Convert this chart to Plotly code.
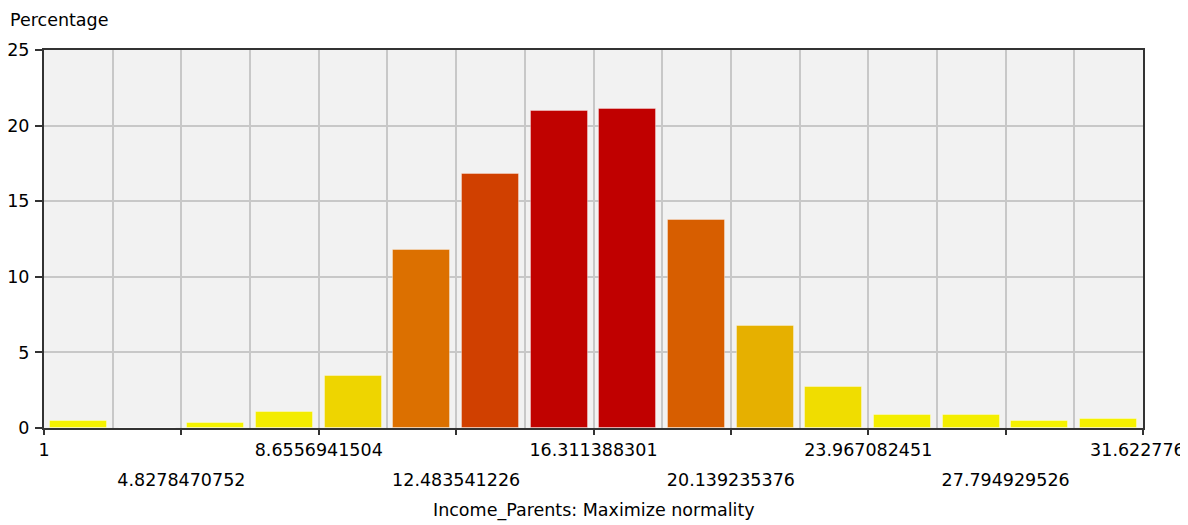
import plotly.graph_objects as go

# ---- data ----
percent = [0.48, 0.0, 0.34, 1.07, 3.43, 11.8, 16.83, 20.97, 21.1, 13.74,
           6.72, 2.68, 0.83, 0.83, 0.48, 0.58]
x_min = 1.0
x_max = 31.6227766
tick_labels = ["1", "4.8278470752", "8.6556941504", "12.483541226",
               "16.311388301", "20.139235376", "23.967082451",
               "27.794929526", "31.6227766"]
y_title = "Percentage"
x_title = "Income_Parents: Maximize normality"

n_bins = len(percent)
bin_w = (x_max - x_min) / n_bins
centers = [x_min + (i + 0.5) * bin_w for i in range(n_bins)]
tick_vals = [float(t) for t in tick_labels]

FONT = "DejaVu Sans"
FS = 17.5
GRID = "#c8c8c8"
FRAME = "#333333"
SCALE = [[0, "#f6f600"], [0.16, "#eed600"], [0.32, "#e6b000"],
         [0.56, "#dc7000"], [0.8, "#d04000"], [1, "#c00000"]]

fig = go.Figure()
fig.add_bar(
    x=centers, y=percent, width=bin_w * 0.83,
    marker=dict(color=percent, colorscale=SCALE,
                cmin=0, cmax=max(percent),
                line=dict(color="rgba(255,255,255,0.35)", width=1)),
    showlegend=False, hoverinfo="x+y",
)
# invisible helper trace so the second (label-row) x axis is drawn
fig.add_scatter(x=[x_min, x_max], y=[0, 0], xaxis="x2", mode="markers",
                marker=dict(opacity=0), showlegend=False, hoverinfo="skip")

fig.update_layout(
    width=1180, height=517,
    margin=dict(l=36, r=45, t=42, b=97, autoexpand=False),
    paper_bgcolor="white", plot_bgcolor="#f2f2f2",
    font=dict(family=FONT, size=FS, color="black"),
    bargap=0,
    xaxis=dict(
        range=[x_min, x_max], automargin=False,
        tickmode="array", tickvals=tick_vals,
        ticktext=[t if i % 2 == 0 else "" for i, t in enumerate(tick_labels)],
        ticks="outside", ticklen=5, tickwidth=1.5, tickcolor=FRAME,
        showgrid=True, gridcolor=GRID, gridwidth=1.5,
        minor=dict(tick0=x_min, dtick=bin_w, showgrid=True,
                   gridcolor=GRID, gridwidth=1.5, ticks=""),
        showline=True, mirror=True, linecolor=FRAME, linewidth=2,
        zeroline=False, ticklabelstandoff=0, ticklabeloverflow="allow",
    ),
    xaxis2=dict(
        overlaying="x", side="bottom", anchor="y", matches="x",
        range=[x_min, x_max], automargin=False,
        tickmode="array",
        tickvals=[v for i, v in enumerate(tick_vals) if i % 2 == 1],
        ticktext=[t for i, t in enumerate(tick_labels) if i % 2 == 1],
        ticks="", showgrid=False, showline=False, zeroline=False,
        ticklabelstandoff=39, ticklabeloverflow="allow",
    ),
    yaxis=dict(
        range=[0, 25], tickmode="linear", tick0=0, dtick=5, automargin=False,
        ticks="outside", ticklen=7, tickwidth=1.5, tickcolor=FRAME,
        showgrid=True, gridcolor=GRID, gridwidth=1.5,
        showline=True, mirror=True, linecolor=FRAME, linewidth=2,
        zeroline=False, ticklabelstandoff=2,
    ),
    annotations=[
        dict(text=y_title, xref="paper", yref="paper", x=0, y=1,
             xanchor="left", yanchor="middle", xshift=-36, yshift=30,
             showarrow=False, font=dict(family=FONT, size=FS)),
        dict(text=x_title, xref="paper", yref="paper", x=0.5, y=0,
             xanchor="center", yanchor="middle", yshift=-82,
             showarrow=False, font=dict(family=FONT, size=FS)),
    ],
)

fig.write_html("out.html")
